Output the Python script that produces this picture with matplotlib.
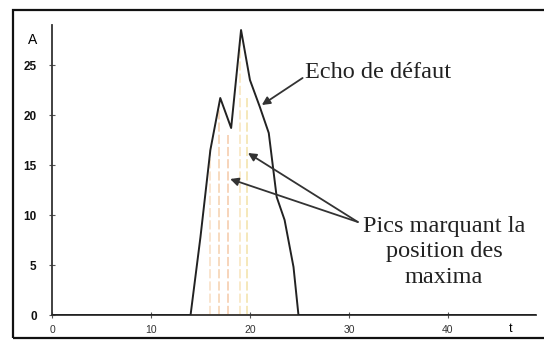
import matplotlib
matplotlib.use("Agg")
import matplotlib.pyplot as plt
from matplotlib.patches import Rectangle

# echo envelope
t_env = [0, 14.0, 15.0, 16.0, 17.0, 18.1, 19.1, 20.0, 21.0, 21.9, 22.2, 22.7, 23.5, 24.4, 24.9, 48.9]
a_env = [0, 0, 7.8, 16.5, 21.7, 18.7, 28.5, 23.5, 20.8, 18.2, 15.8, 11.8, 9.5, 4.8, 0, 0]

# faint stems marking the maxima
t_pics = [16.0, 16.9, 17.8, 19.0, 19.7]
a_pics = [16.5, 21.0, 18.0, 27.5, 22.0]
pic_colors = ["#f6d8b8", "#f3c8a0", "#f4c098", "#f7e0b0", "#f0dc98"]

yticks = [0, 5, 10, 15, 20, 25]
xticks = [0, 10, 20, 30, 40]

tick_font = ["Liberation Sans", "DejaVu Sans"]
text_font = ["Liberation Serif", "DejaVu Serif"]

fig = plt.figure(figsize=(5.44, 3.40), dpi=100)
ax = fig.add_axes([52 / 544, 25 / 340, (536 - 52) / 544, (315 - 25) / 340])

# stems first, underneath the envelope
for t, a, c in zip(t_pics, a_pics, pic_colors):
    ax.plot([t, t], [0, a], color=c, lw=1.1, ls=(0, (6, 2)), alpha=0.85, zorder=1)
ax.plot([t_env[1], t_env[-2]], [0, 0], color="#f0b070", lw=1.2, zorder=1)

ax.plot(t_env, a_env, color="#222222", lw=1.4, zorder=3)

ax.set_xlim(0, 48.9)
ax.set_ylim(0, 29.0)
for side in ["top", "right"]:
    ax.spines[side].set_visible(False)
for side in ["left", "bottom"]:
    ax.spines[side].set_color("#333333")
    ax.spines[side].set_linewidth(1.3)

ax.set_yticks(yticks)
ax.set_xticks(xticks)
ax.tick_params(axis="both", direction="inout", length=4, width=0.8,
               colors="#555555", labelcolor="#111111")
ax.tick_params(axis="y", pad=9)
ax.tick_params(axis="x", pad=5)
for lab in ax.get_yticklabels():
    lab.set_family(tick_font)
    lab.set_fontsize(8.5)
    lab.set_fontweight("bold")
for lab in ax.get_xticklabels():
    lab.set_family(tick_font)
    lab.set_fontsize(7.5)
    lab.set_color("#333333")

# axis names placed like the original: A above the y labels, t at the far right
fig.text(33 / 544, 1 - 40 / 340, "A", family=tick_font, fontsize=10,
         ha="center", va="center")
fig.text(511 / 544, 1 - 329 / 340, "t", family=tick_font, fontsize=9,
         ha="center", va="center")

arrow = dict(arrowstyle="-|>", color="#333333", lw=1.3, mutation_scale=12,
             shrinkA=0, shrinkB=0)
ax.annotate("Echo de défaut", xy=(21.2, 21.0), xytext=(25.6, 24.2),
            textcoords="data", family=text_font, fontsize=17.5,
            color="#222222", ha="left", va="center",
            arrowprops=dict(arrow, relpos=(0.0, 0.35)))

pics_txt = (30.9, 9.3)
ax.annotate("", xy=(18.0, 13.6), xytext=pics_txt, arrowprops=arrow)
ax.annotate("", xy=(19.8, 16.2), xytext=pics_txt, arrowprops=arrow)
ax.text(39.6, 6.3, "Pics marquant la\nposition des\nmaxima",
        family=text_font, fontsize=17.5, color="#222222",
        ha="center", va="center", linespacing=1.3)

# scanned page frame
fig.patches.append(Rectangle((13 / 544, 2 / 340), 540 / 544, 328 / 340,
                             transform=fig.transFigure, fill=False,
                             edgecolor="#111111", lw=1.6))

fig.savefig("out.png", dpi=100)
